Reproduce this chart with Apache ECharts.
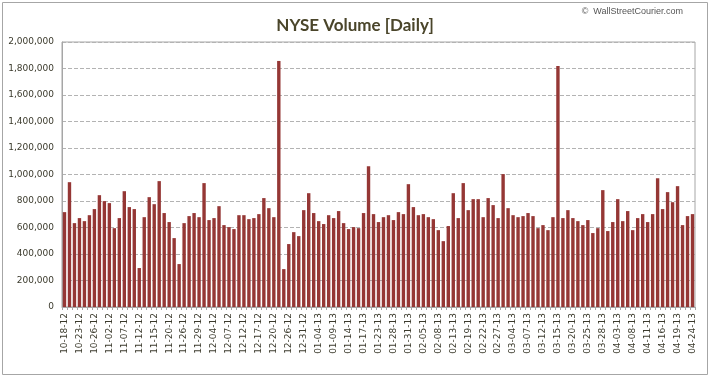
<!DOCTYPE html>
<html>
<head>
<meta charset="utf-8">
<title>NYSE Volume [Daily]</title>
<script src="https://cdn.jsdelivr.net/npm/echarts@6/dist/echarts.min.js"></script>
<style>
  html, body { margin: 0; padding: 0; background: #fff; }
  #chart { width: 710px; height: 377px; }
</style>
</head>
<body>
<div id="chart"></div>
<script>
// trading days, MM-DD-YY
var dates = [
  '10-18-12', '10-19-12', '10-22-12', '10-23-12', '10-24-12', '10-25-12', '10-26-12', '10-31-12',
  '11-01-12', '11-02-12', '11-05-12', '11-06-12', '11-07-12', '11-08-12', '11-09-12', '11-12-12',
  '11-13-12', '11-14-12', '11-15-12', '11-16-12', '11-19-12', '11-20-12', '11-21-12', '11-23-12',
  '11-26-12', '11-27-12', '11-28-12', '11-29-12', '11-30-12',
  '12-03-12', '12-04-12', '12-05-12', '12-06-12', '12-07-12', '12-10-12', '12-11-12', '12-12-12',
  '12-13-12', '12-14-12', '12-17-12', '12-18-12', '12-19-12', '12-20-12', '12-21-12', '12-24-12',
  '12-26-12', '12-27-12', '12-28-12', '12-31-12',
  '01-02-13', '01-03-13', '01-04-13', '01-07-13', '01-08-13', '01-09-13', '01-10-13', '01-11-13',
  '01-14-13', '01-15-13', '01-16-13', '01-17-13', '01-18-13', '01-22-13', '01-23-13', '01-24-13',
  '01-25-13', '01-28-13', '01-29-13', '01-30-13', '01-31-13',
  '02-01-13', '02-04-13', '02-05-13', '02-06-13', '02-07-13', '02-08-13', '02-11-13', '02-12-13',
  '02-13-13', '02-14-13', '02-15-13', '02-19-13', '02-20-13', '02-21-13', '02-22-13', '02-25-13',
  '02-26-13', '02-27-13', '02-28-13',
  '03-01-13', '03-04-13', '03-05-13', '03-06-13', '03-07-13', '03-08-13', '03-11-13', '03-12-13',
  '03-13-13', '03-14-13', '03-15-13', '03-18-13', '03-19-13', '03-20-13', '03-21-13', '03-22-13',
  '03-25-13', '03-26-13', '03-27-13', '03-28-13',
  '04-01-13', '04-02-13', '04-03-13', '04-04-13', '04-05-13', '04-08-13', '04-09-13', '04-10-13',
  '04-11-13', '04-12-13', '04-15-13', '04-16-13', '04-17-13', '04-18-13', '04-19-13', '04-22-13',
  '04-23-13', '04-24-13'
]

var volume = [
  716000, 942000, 633000, 671000, 648000, 693000, 739000, 844000, 799000, 784000,
  595000, 671000, 874000, 754000, 739000, 294000, 678000, 829000, 776000, 950000,
  709000, 641000, 520000, 324000, 633000, 686000, 709000, 678000, 935000, 656000,
  671000, 761000, 618000, 603000, 588000, 693000, 693000, 663000, 671000, 701000,
  822000, 746000, 678000, 1857000, 286000, 475000, 565000, 535000, 731000, 859000,
  709000, 648000, 626000, 693000, 671000, 724000, 633000, 588000, 603000, 595000,
  709000, 1063000, 701000, 641000, 678000, 693000, 656000, 716000, 701000, 927000,
  754000, 693000, 701000, 678000, 663000, 580000, 497000, 611000, 859000, 671000,
  935000, 731000, 814000, 814000, 678000, 822000, 769000, 671000, 1003000, 746000,
  693000, 678000, 686000, 709000, 686000, 595000, 618000, 580000, 678000, 1819000,
  671000, 731000, 671000, 648000, 618000, 656000, 558000, 595000, 882000, 573000,
  641000, 814000, 648000, 724000, 580000, 671000, 701000, 641000, 701000, 972000,
  739000, 867000, 791000, 912000, 618000, 686000, 701000
]

// y axis ticks
var yMin = 0
var yMax = 2000000
var yStep = 200000

var labelColor = '#3b3a2c'
var lineColor = '#a6a6a6'

var myChart = echarts.init(document.getElementById('chart'))

var option = {
  animation: false,
  title: {
    text: 'NYSE Volume [Daily]',
    left: 'center',
    top: 12,
    textStyle: {
      fontFamily: 'Lato',
      fontWeight: 'bold',
      fontSize: 17,
      color: '#4a452a',
    },
  },
  graphic: [
    {
      // outer frame
      type: 'rect',
      shape: { x: 2.5, y: 2.5, width: 705, height: 372 },
      style: { fill: 'none', stroke: lineColor, lineWidth: 1 },
      silent: true,
    },
    {
      type: 'text',
      right: 27,
      top: 7,
      style: {
        text: '\u00a9  WallStreetCourier.com',
        fontFamily: 'Liberation Sans',
        fontSize: 9,
        fill: '#555',
      },
    },
  ],
  grid: {
    show: true,
    left: 62,
    right: 15,
    top: 42,
    bottom: 70,
    borderColor: lineColor,
    borderWidth: 1,
    containLabel: false,
  },
  xAxis: {
    type: 'category',
    data: dates,
    boundaryGap: true,
    axisLine: {
      show: true,
      lineStyle: { color: lineColor },
    },
    axisTick: {
      show: true,
      interval: 0,
      length: 3,
      lineStyle: { color: lineColor },
    },
    axisLabel: {
      interval: 2, // every 3rd trading day
      rotate: 90,
      margin: 6,
      fontFamily: 'DejaVu Sans',
      fontSize: 9,
      color: labelColor,
    },
    splitLine: { show: false },
  },
  yAxis: {
    type: 'value',
    min: yMin,
    max: yMax,
    interval: yStep,
    axisLine: {
      show: true,
      lineStyle: { color: lineColor },
    },
    axisTick: { show: false },
    axisLabel: {
      margin: 8,
      fontFamily: 'DejaVu Sans',
      fontSize: 9,
      color: labelColor,
      formatter: function (value) {
        return String(value).replace(/\B(?=(\d{3})+(?!\d))/g, ',')
      },
    },
    splitLine: {
      show: true,
      lineStyle: { color: '#b3b3b3', type: [4, 2] },
    },
  },
  series: [
    {
      name: 'NYSE Volume',
      type: 'bar',
      data: volume,
      barCategoryGap: '32%',
      itemStyle: { color: '#953735' },
    },
  ],
}

myChart.setOption(option)
</script>
</body>
</html>
